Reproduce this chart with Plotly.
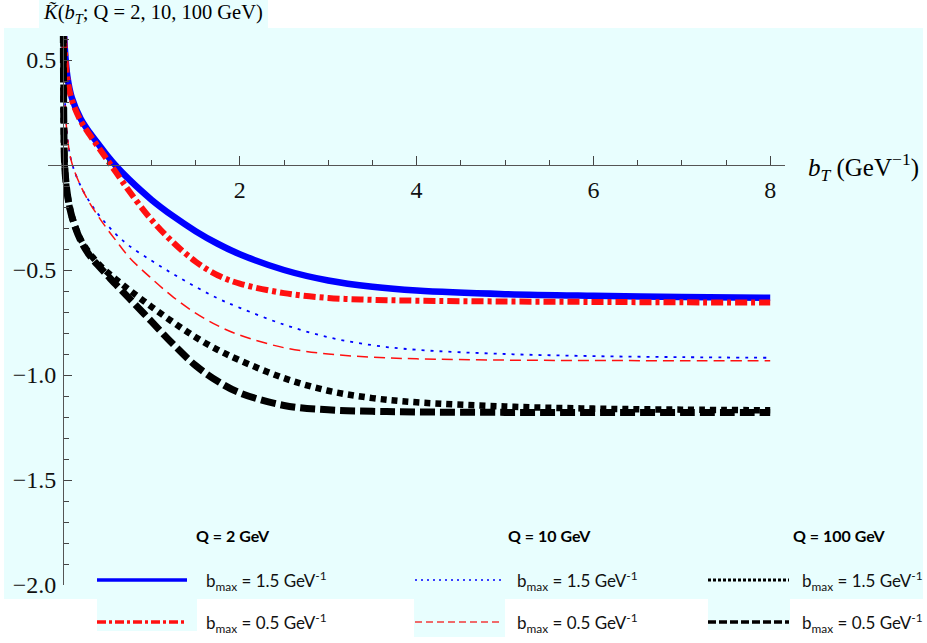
import plotly.graph_objects as go

W, H = 927, 643

# ---------------- data ----------------
b_T = [0.003, 0.006, 0.01, 0.02, 0.05, 0.1, 0.2, 0.3, 0.4, 0.5, 0.6, 0.75, 1.0,
       1.25, 1.5, 1.75, 2.0, 2.5, 3.0, 3.5, 4.0, 5.0, 6.0, 7.0, 8.0]

K_Q2_b15 = [0.84, 0.74, 0.66, 0.56, 0.42, 0.32, 0.22, 0.155, 0.10, 0.045, -0.005,
            -0.07, -0.165, -0.245, -0.315, -0.375, -0.425, -0.50, -0.55, -0.58,
            -0.598, -0.615, -0.623, -0.628, -0.632]
K_Q2_b05 = [0.84, 0.73, 0.65, 0.55, 0.41, 0.31, 0.21, 0.145, 0.085, 0.025, -0.035,
            -0.125, -0.26, -0.37, -0.46, -0.525, -0.565, -0.61, -0.633, -0.642,
            -0.646, -0.650, -0.652, -0.654, -0.655]
K_Q10_b15 = [0.85, 0.65, 0.50, 0.33, 0.13, 0.01, -0.10, -0.175, -0.235, -0.285,
             -0.33, -0.385, -0.455, -0.52, -0.58, -0.635, -0.68, -0.76, -0.82,
             -0.858, -0.88, -0.90, -0.91, -0.915, -0.918]
K_Q10_b05 = [0.85, 0.65, 0.50, 0.33, 0.13, 0.01, -0.10, -0.18, -0.245, -0.305,
             -0.36, -0.44, -0.54, -0.63, -0.705, -0.765, -0.81, -0.87, -0.90,
             -0.915, -0.923, -0.929, -0.931, -0.932, -0.932]
K_Q100_b15 = [0.75, 0.40, 0.17, -0.01, -0.14, -0.245, -0.355, -0.42, -0.47, -0.51,
              -0.545, -0.595, -0.675, -0.75, -0.82, -0.88, -0.93, -1.015, -1.075,
              -1.11, -1.13, -1.15, -1.16, -1.165, -1.168]
K_Q100_b05 = [0.75, 0.40, 0.17, -0.01, -0.14, -0.245, -0.36, -0.43, -0.48, -0.525,
              -0.57, -0.635, -0.745, -0.855, -0.955, -1.03, -1.085, -1.145, -1.166,
              -1.173, -1.176, -1.178, -1.178, -1.178, -1.178]

x_major = [2, 4, 6, 8]
x_major_labels = ["2", "4", "6", "8"]
x_minor = [0.5, 1, 1.5, 2.5, 3, 3.5, 4.5, 5, 5.5, 6.5, 7, 7.5]
y_major = [-2.0, -1.5, -1.0, -0.5, 0.5]
y_major_labels = ["\u22122.0", "\u22121.5", "\u22121.0", "\u22120.5", "0.5"]
y_minor = [-1.9, -1.8, -1.7, -1.6, -1.4, -1.3, -1.2, -1.1, -0.9, -0.8, -0.7, -0.6,
           -0.4, -0.3, -0.2, -0.1, 0.1, 0.2, 0.3, 0.4, 0.6]

series_names = ["Q = 2 GeV", "Q = 10 GeV", "Q = 100 GeV"]
bmax_labels = ["b<sub>max</sub> = 1.5 GeV<sup>-1</sup>", "b<sub>max</sub> = 0.5 GeV<sup>-1</sup>"]

# ---------------- helpers (pixel -> paper) ----------------
def X(px):
    return px / W

def Y(py):
    return 1 - py / H

CYAN = "#e8fefe"
SERIF = "Liberation Serif"
SANS = "Lato"

styles = [
    (K_Q2_b15, dict(color="#0000ff", width=6.5, dash="solid")),
    (K_Q2_b05, dict(color="#ff1010", width=6, dash="12px,4px,4px,4px")),
    (K_Q10_b15, dict(color="#0000ff", width=1.8, dash="3px,6px")),
    (K_Q10_b05, dict(color="#ff1010", width=1.5, dash="11px,6px")),
    (K_Q100_b15, dict(color="#000000", width=6.5, dash="6px,5px")),
    (K_Q100_b05, dict(color="#000000", width=7, dash="15px,5px")),
]

fig = go.Figure()
for yv, ln in styles:
    fig.add_trace(go.Scatter(x=b_T, y=yv, mode="lines",
                             line=dict(shape="spline", smoothing=1.0, **ln),
                             showlegend=False, hoverinfo="skip"))

shapes = []
# backgrounds
shapes.append(dict(type="rect", xref="paper", yref="paper", x0=X(4), x1=X(923), y0=Y(599), y1=Y(28),
                   fillcolor=CYAN, line=dict(width=0), layer="below"))
shapes.append(dict(type="rect", xref="paper", yref="paper", x0=X(39), x1=X(268), y0=Y(28), y1=Y(0),
                   fillcolor=CYAN, line=dict(width=0), layer="below"))
for x0, x1, y1 in [(97, 197, 631), (414, 505, 637), (708, 790, 630)]:
    shapes.append(dict(type="rect", xref="paper", yref="paper", x0=X(x0), x1=X(x1), y0=Y(y1), y1=Y(598),
                       fillcolor=CYAN, line=dict(width=0), layer="below"))

# legend samples
legend_cols = [(97, 187, 204, 233), (415, 503, 515, 549), (708, 789, 800, 839)]
legend_styles = [
    [dict(color="#0000ff", width=3.5, dash="solid"), dict(color="#ff1010", width=3.5, dash="9px,3px,3px,3px")],
    [dict(color="#0000ff", width=1.3, dash="2px,4px"), dict(color="#f06a6a", width=1.8, dash="7px,4px")],
    [dict(color="#000000", width=3, dash="3px,2px"), dict(color="#000000", width=3.5, dash="8px,3px")],
]
row_y = [580, 622]
annotations = []
for ci, (sx0, sx1, tx, hx) in enumerate(legend_cols):
    for ri in range(2):
        shapes.append(dict(type="line", xref="paper", yref="paper", x0=X(sx0), x1=X(sx1),
                           y0=Y(row_y[ri]), y1=Y(row_y[ri]), line=legend_styles[ci][ri]))
        annotations.append(dict(x=X(tx), y=Y(row_y[ri] + 1), xref="paper", yref="paper",
                                text=bmax_labels[ri], showarrow=False, xanchor="left", yanchor="middle",
                                font=dict(family=SANS, size=17, color="#111")))
    annotations.append(dict(x=X(hx), y=Y(535), xref="paper", yref="paper",
                            text="<b>" + series_names[ci] + "</b>", showarrow=False,
                            xanchor="center", yanchor="middle",
                            font=dict(family=SANS, size=16, color="#000")))

# title and axis label
annotations.append(dict(x=X(41), y=Y(14), xref="paper", yref="paper",
                        text="<i>K\u0303</i>(<i>b</i><sub><i>T</i></sub>; Q = 2, 10, 100 GeV)",
                        showarrow=False, xanchor="left", yanchor="middle",
                        font=dict(family=SERIF, size=20.5, color="#000")))
annotations.append(dict(x=X(806), y=Y(167), xref="paper", yref="paper",
                        text="<i>b</i><sub><i>T</i></sub> (GeV<sup>\u22121</sup>)",
                        showarrow=False, xanchor="left", yanchor="middle",
                        font=dict(family=SERIF, size=25, color="#000")))

# axes geometry
x0_px, xunit = 63.0, 88.4
y0_px, yunit = 165.0, 210.0
xdom = (48, 785)
ydom = (36, 585)
xrange_ = [(xdom[0] - x0_px) / xunit, (xdom[1] - x0_px) / xunit]
yrange_ = [-(ydom[1] - y0_px) / yunit, -(ydom[0] - y0_px) / yunit]

fig.update_layout(
    width=W, height=H,
    margin=dict(l=0, r=0, t=0, b=0, autoexpand=False),
    paper_bgcolor="white", plot_bgcolor="rgba(0,0,0,0)",
    shapes=shapes, annotations=annotations,
    xaxis=dict(domain=[X(xdom[0]), X(xdom[1])], range=xrange_, anchor="free", position=Y(y0_px),
               showgrid=False, zeroline=False, showline=True, linecolor="#555", linewidth=1,
               tickmode="array", tickvals=x_major, ticktext=x_major_labels,
               ticks="inside", ticklen=9, tickcolor="#444", tickwidth=1,
               ticklabelstandoff=3,
               tickfont=dict(family=SERIF, size=24, color="#111"),
               minor=dict(tickmode="array", tickvals=x_minor, ticks="inside", ticklen=5,
                          tickcolor="#444", tickwidth=1),
               automargin=False, fixedrange=True),
    yaxis=dict(domain=[Y(ydom[1]), Y(ydom[0])], range=yrange_, anchor="free", position=X(x0_px),
               showgrid=False, zeroline=False, showline=True, linecolor="#555", linewidth=1,
               tickmode="array", tickvals=y_major, ticktext=y_major_labels,
               ticks="inside", ticklen=8, tickcolor="#444", tickwidth=1,
               ticklabelstandoff=2,
               tickfont=dict(family=SERIF, size=24, color="#111"),
               minor=dict(tickmode="array", tickvals=y_minor, ticks="inside", ticklen=5,
                          tickcolor="#444", tickwidth=1),
               automargin=False, fixedrange=True),
)

fig.write_html("out.html", config={"displayModeBar": False},
               post_script="document.body.style.margin='0px';document.body.style.padding='0px';")
